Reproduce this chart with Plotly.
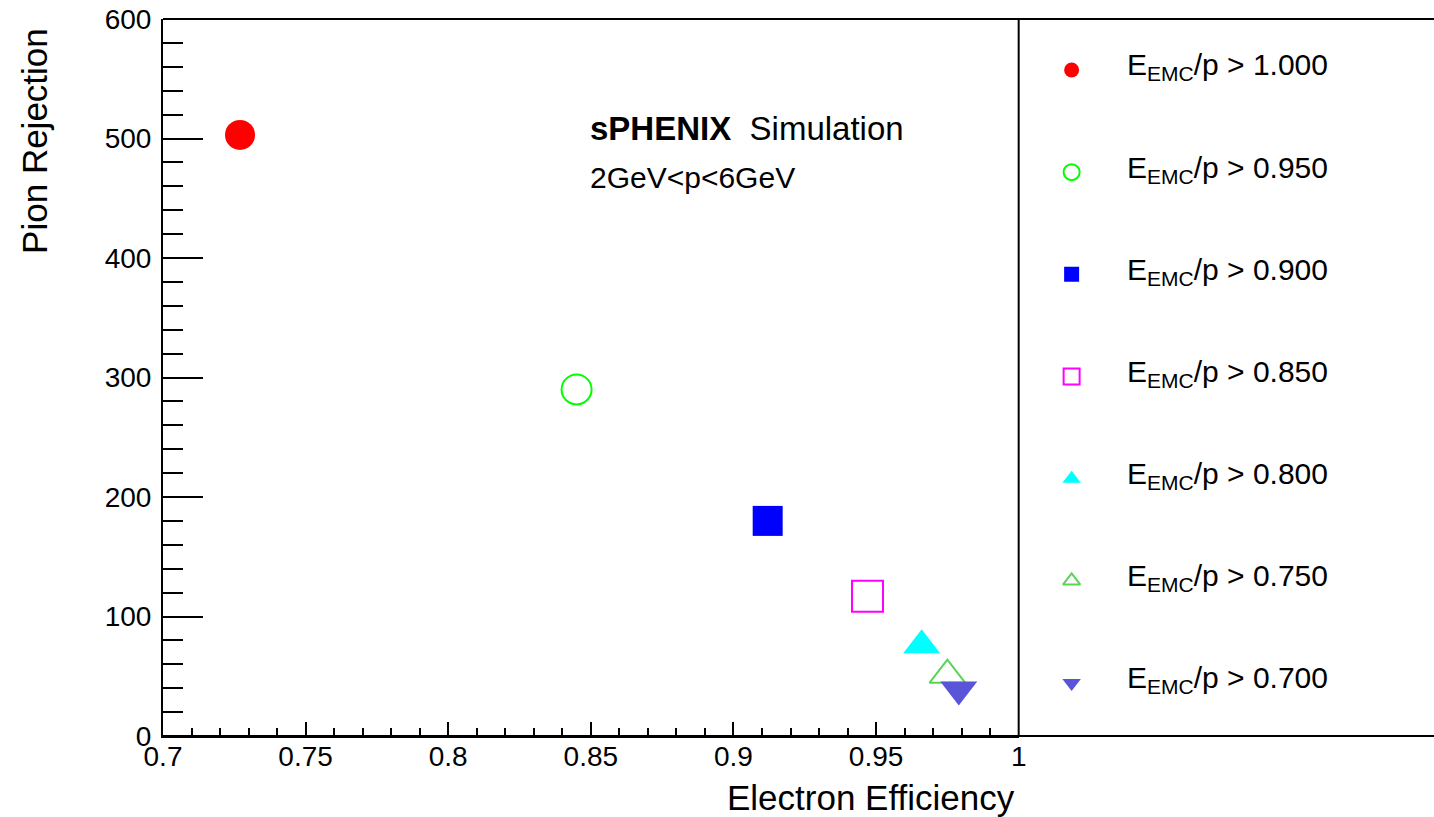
import plotly.graph_objects as go

# ---- data ----
cuts = ["1.000", "0.950", "0.900", "0.850", "0.800", "0.750", "0.700"]
efficiency = [0.727, 0.845, 0.912, 0.947, 0.966, 0.975, 0.979]
rejection = [503, 290, 180, 117, 76, 51, 39]
symbols = ["circle", "circle-open", "square", "square-open",
           "triangle-up", "triangle-up-open", "triangle-down"]
colors = ["#ff0000", "#00ff00", "#0000ff", "#ff00ff", "#00ffff", "#59d454", "#5954d8"]
sizes = [30, 30, 30, 31, 32, 31, 32]
legend_sizes = [15, 16, 15, 16, 16, 15, 16]

W, H = 1434, 817
ML, MR, MT, MB = 163, 0, 19, 81
PW = 1425 - ML          # effective paper width in the rendered page
PH = H - MT - MB
XR = (1018 - ML) / PW   # right end of main x axis in paper coords

FONT = "Liberation Sans, Arial, Helvetica, sans-serif"

fig = go.Figure()

for i in range(len(cuts)):
    open_ = symbols[i].endswith("open")
    fig.add_trace(go.Scatter(
        x=[efficiency[i]], y=[rejection[i]], mode="markers",
        marker=dict(symbol=symbols[i], size=sizes[i], color=colors[i],
                    line=dict(width=2 if open_ else 0, color=colors[i])),
        showlegend=False, xaxis="x", yaxis="y", hoverinfo="x+y",
        name="E<sub>EMC</sub>/p &gt; " + cuts[i]))

# legend markers on a separate panel axis (row index = entry index)
for i in range(len(cuts)):
    open_ = symbols[i].endswith("open")
    fig.add_trace(go.Scatter(
        x=[0.13], y=[i], mode="markers",
        marker=dict(symbol=symbols[i], size=legend_sizes[i], color=colors[i],
                    line=dict(width=2 if open_ else 0, color=colors[i])),
        showlegend=False, xaxis="x2", yaxis="y2", hoverinfo="skip"))
    fig.add_annotation(
        x=0.262, y=i - 0.03, xref="x2", yref="y2", xanchor="left", yanchor="middle",
        text="E<sub>EMC</sub>/p &gt; " + cuts[i], showarrow=False,
        font=dict(family=FONT, size=30, color="black"))

axis_common = dict(showgrid=False, zeroline=False, showline=True, linewidth=2,
                   linecolor="black", ticks="inside", tickwidth=2, tickcolor="black",
                   tickfont=dict(family=FONT, size=28, color="black"))

fig.update_layout(
    width=W, height=H, autosize=False,
    margin=dict(l=ML, r=MR, t=MT, b=MB, pad=0),
    paper_bgcolor="white", plot_bgcolor="white",
    xaxis=dict(range=[0.7, 1.0], domain=[0, XR], dtick=0.05, tick0=0.7, ticklen=14,
               ticklabelstandoff=-6,
               minor=dict(dtick=0.01, tick0=0.7, ticks="inside", ticklen=8, tickwidth=2,
                          tickcolor="black", showgrid=False),
               **axis_common),
    yaxis=dict(range=[0, 600], domain=[0, 1], dtick=100, tick0=0, ticklen=40,
               ticklabelstandoff=4,
               minor=dict(dtick=20, tick0=0, ticks="inside", ticklen=20, tickwidth=2,
                          tickcolor="black", showgrid=False),
               **axis_common),
    xaxis2=dict(range=[0, 1], domain=[XR, 1], anchor="y2", visible=False, fixedrange=True),
    yaxis2=dict(range=[(736 - 70) / 102.17, (19 - 70) / 102.17], domain=[0, 1],
                anchor="x2", visible=False, fixedrange=True),
    showlegend=False,
)

# frame lines: top and bottom extend to the right edge, vertical separator at x=1
line = dict(color="black", width=2)
fig.add_shape(type="line", xref="paper", yref="paper", x0=0, x1=1.05, y0=1, y1=1, line=line)
fig.add_shape(type="line", xref="paper", yref="paper", x0=0, x1=1.05, y0=0, y1=0, line=line)
fig.add_shape(type="line", xref="paper", yref="paper", x0=XR, x1=XR, y0=0, y1=1, line=line)

# axis titles (ROOT style, aligned to axis ends)
fig.add_annotation(text="Electron Efficiency", xref="paper", yref="paper",
                   x=(1016 - ML) / PW, y=(736 - 797) / PH, xanchor="right", yanchor="middle",
                   showarrow=False, font=dict(family=FONT, size=35, color="black"))
fig.add_annotation(text="Pion Rejection", xref="paper", yref="paper", textangle=-90,
                   x=(35 - ML) / PW, y=1 - (26 - MT) / PH, xanchor="center", yanchor="top",
                   showarrow=False, font=dict(family=FONT, size=35, color="black"))

# labels
fig.add_annotation(text="<b>sPHENIX</b>  Simulation", xref="paper", yref="paper",
                   x=(588 - ML) / PW, y=(736 - 128) / PH, xanchor="left", yanchor="middle",
                   showarrow=False, font=dict(family=FONT, size=33, color="black"))
fig.add_annotation(text="2GeV&lt;p&lt;6GeV", xref="paper", yref="paper",
                   x=(588 - ML) / PW, y=(736 - 177) / PH, xanchor="left", yanchor="middle",
                   showarrow=False, font=dict(family=FONT, size=30, color="black"))

fig.write_html("out.html")
